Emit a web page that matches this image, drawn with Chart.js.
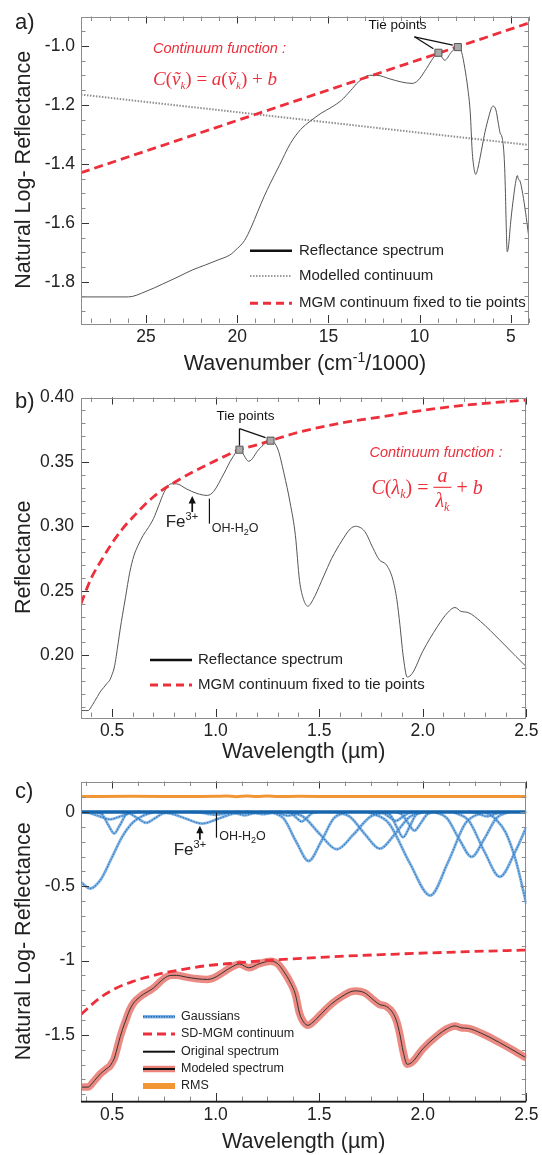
<!DOCTYPE html>
<html>
<head>
<meta charset="utf-8">
<script src="https://cdn.jsdelivr.net/npm/chart.js@4.4.1/dist/chart.umd.min.js"></script>
<style>
  html, body { margin: 0; padding: 0; background: #fff; }
  #wrap { position: relative; width: 542px; height: 1155px; overflow: hidden; }
  #wrap canvas { position: absolute; left: 0; }
</style>
</head>
<body>
<div id="wrap">
  <canvas id="pa" width="542" height="380" style="top:0px"></canvas>
  <canvas id="pb" width="542" height="385" style="top:380px"></canvas>
  <canvas id="pc" width="542" height="390" style="top:765px"></canvas>
</div>
<script>
// ---------- sample spectrum (wavelength in µm, reflectance) ----------
const wavelength = [0.35,0.37,0.385,0.40,0.415,0.43,0.445,0.46,0.475,0.49,0.50,0.51,0.52,0.53,0.54,0.55,0.565,0.585,0.605,0.625,0.65,0.675,0.70,0.725,0.75,0.785,0.81,0.86,0.91,0.96,0.99,1.04,1.08,1.115,1.16,1.21,1.265,1.30,1.33,1.36,1.385,1.405,1.425,1.445,1.47,1.51,1.54,1.56,1.61,1.65,1.675,1.72,1.76,1.79,1.825,1.855,1.875,1.89,1.905,1.925,1.95,2.00,2.07,2.12,2.155,2.185,2.22,2.28,2.37,2.45,2.50];
const reflectance = [0.157,0.157,0.157,0.160,0.164,0.168,0.172,0.175,0.178,0.181,0.185,0.190,0.199,0.210,0.221,0.231,0.245,0.264,0.277,0.285,0.293,0.299,0.306,0.316,0.326,0.333,0.333,0.329,0.3255,0.324,0.327,0.341,0.353,0.3595,0.3505,0.360,0.3665,0.360,0.341,0.318,0.293,0.258,0.243,0.238,0.243,0.257,0.268,0.275,0.289,0.298,0.300,0.296,0.283,0.274,0.270,0.259,0.243,0.223,0.200,0.183,0.186,0.203,0.222,0.233,0.237,0.234,0.233,0.226,0.212,0.199,0.191];
const tieWavelength = [1.115, 1.265];
const tieReflectance = [0.3595, 0.3665];

// ---------- panel a: log reflectance against wavenumber ----------
const aXTicks = [25, 20, 15, 10, 5];
const aYTicks = [-1.8, -1.6, -1.4, -1.2, -1.0];
const modelledWavenumber = [28.57, 4.0];
const modelledLogR = [-1.165, -1.336];
const mgmLineWavenumber = [28.57, 4.0];
const mgmLineLogR = [-1.43, -0.922];

// ---------- panel b: reflectance against wavelength ----------
const bXTicks = [0.5, 1.0, 1.5, 2.0, 2.5];
const bYTicks = [0.20, 0.25, 0.30, 0.35, 0.40];
const bContWl = [0.35,0.40,0.45,0.50,0.55,0.60,0.70,0.80,0.90,1.00,1.115,1.20,1.265,1.40,1.60,1.80,2.00,2.20,2.50];
const bContR  = [0.240,0.260,0.274,0.287,0.298,0.307,0.323,0.334,0.343,0.351,0.3595,0.3633,0.3665,0.373,0.380,0.385,0.390,0.394,0.398];

// ---------- panel c: SD-MGM deconvolution ----------
const cXTicks = [0.5, 1.0, 1.5, 2.0, 2.5];
const cYTicks = [-1.5, -1, -0.5, 0];
const sdContWl   = [0.35,0.441,0.521,0.601,0.681,0.761,0.857,0.953,1.081,1.241,1.577,1.897,2.217,2.50];
const sdContLogR = [-1.362,-1.251,-1.185,-1.14,-1.107,-1.08,-1.056,-1.035,-1.018,-1.0,-0.973,-0.955,-0.94,-0.929];
const rmsWl  = [0.35,0.60,0.90,1.00,1.05,1.10,1.15,1.20,1.25,1.30,1.40,1.60,2.00,2.50];
const rmsVal = [0.104,0.105,0.104,0.105,0.108,0.103,0.107,0.104,0.107,0.104,0.105,0.104,0.104,0.104];
const baselineWl = [0.35, 2.50];
const baselineVal = [0, 0];
const gaussWl = [
  [0.35,0.393,0.445,0.497,0.549,0.601,0.653,0.705],
  [0.426,0.454,0.482,0.51,0.538,0.566,0.594],
  [0.35,0.39,0.44,0.49,0.54,0.59,0.64],
  [0.545,0.585,0.625,0.665,0.705,0.745,0.785],
  [0.71,0.785,0.86,0.935,1.01,1.085,1.16],
  [0.88,0.92,0.96,1.0,1.04,1.08,1.12],
  [1.05,1.08,1.11,1.14,1.17,1.20,1.23],
  [1.14,1.17,1.20,1.23,1.26,1.29,1.32],
  [1.26,1.29,1.32,1.35,1.38,1.41,1.44],
  [1.34,1.365,1.39,1.415,1.44,1.465,1.49],
  [1.269,1.329,1.389,1.449,1.509,1.569,1.629],
  [1.345,1.425,1.505,1.585,1.665,1.745,1.825],
  [1.577,1.649,1.721,1.793,1.865,1.937,2.009],
  [1.78,1.81,1.84,1.87,1.90,1.93,1.96],
  [1.815,1.845,1.875,1.905,1.935,1.965,1.995],
  [1.87,1.90,1.93,1.96,1.99,2.02,2.05],
  [1.736,1.836,1.936,2.036,2.121,2.206,2.291],
  [2.056,2.116,2.176,2.236,2.296,2.356,2.416],
  [2.22,2.25,2.28,2.31,2.34,2.37,2.40],
  [2.147,2.222,2.297,2.372,2.447,2.50],
  [2.30,2.35,2.40,2.45,2.50]
];
const gaussDepth = [
  [-0.473,-0.515,-0.455,-0.313,-0.167,-0.070,-0.023,0],
  [0,-0.020,-0.088,-0.145,-0.088,-0.020,0],
  [0,-0.007,-0.030,-0.050,-0.030,-0.007,0],
  [0,-0.010,-0.044,-0.073,-0.044,-0.010,0],
  [0,-0.011,-0.047,-0.078,-0.047,-0.011,0],
  [0,-0.003,-0.012,-0.020,-0.012,-0.003,0],
  [0,-0.003,-0.013,-0.022,-0.013,-0.003,0],
  [0,-0.002,-0.009,-0.015,-0.009,-0.002,0],
  [0,-0.003,-0.015,-0.025,-0.015,-0.003,0],
  [0,-0.009,-0.039,-0.065,-0.039,-0.009,0],
  [0,-0.045,-0.200,-0.330,-0.200,-0.045,0],
  [0,-0.034,-0.152,-0.251,-0.152,-0.034,0],
  [0,-0.033,-0.150,-0.247,-0.150,-0.033,0],
  [0,-0.008,-0.036,-0.060,-0.036,-0.008,0],
  [0,-0.023,-0.103,-0.170,-0.103,-0.023,0],
  [0,-0.017,-0.076,-0.125,-0.076,-0.017,0],
  [0,-0.076,-0.341,-0.562,-0.341,-0.076,0],
  [0,-0.041,-0.183,-0.302,-0.183,-0.041,0],
  [0,-0.004,-0.018,-0.030,-0.018,-0.004,0],
  [0,-0.059,-0.265,-0.436,-0.265,-0.101],
  [0,-0.045,-0.138,-0.331,-0.619]
];

// ---------- styling ----------
const FONT = '"Liberation Sans", Arial, Helvetica, sans-serif';
const SERIF = '"Liberation Serif", "Times New Roman", serif';
const RED = '#ec2f3b';
const INK = '#222';
const TITLE_SIZE = 21.5;
Chart.defaults.font.family = FONT;

const pairs = (xs, ys) => xs.map((x, i) => ({ x, y: ys[i] }));

// ---------- drawing helpers ----------
function seg(ctx, x0, y0, x1, y1, color, w, dash) {
  ctx.save();
  ctx.beginPath();
  ctx.strokeStyle = color; ctx.lineWidth = w; ctx.setLineDash(dash || []);
  ctx.moveTo(x0, y0); ctx.lineTo(x1, y1); ctx.stroke();
  ctx.restore();
}
function label(ctx, s, x, y, font, color, align) {
  ctx.save();
  ctx.font = font; ctx.fillStyle = color; ctx.textAlign = align || 'left'; ctx.textBaseline = 'middle';
  ctx.fillText(s, x, y);
  ctx.restore();
}
function runsWidth(ctx, parts) {
  let w = 0;
  ctx.save();
  for (const p of parts) { ctx.font = p[1]; w += ctx.measureText(p[0]).width; }
  ctx.restore();
  return w;
}
function runs(ctx, x, y, parts, color) {
  ctx.save();
  ctx.fillStyle = color; ctx.textBaseline = 'alphabetic'; ctx.textAlign = 'left';
  for (const p of parts) {
    ctx.font = p[1];
    ctx.fillText(p[0], x, y + (p[2] || 0));
    x += ctx.measureText(p[0]).width;
  }
  ctx.restore();
  return x;
}
function arrowUp(ctx, x, yTail, yTip, color) {
  seg(ctx, x, yTail, x, yTip + 5, color, 1.7);
  ctx.save();
  ctx.fillStyle = color;
  ctx.beginPath();
  ctx.moveTo(x, yTip); ctx.lineTo(x - 3.6, yTip + 7.5); ctx.lineTo(x + 3.6, yTip + 7.5);
  ctx.closePath(); ctx.fill();
  ctx.restore();
}
function fe3(ctx, tipX, tailY) {
  // "Fe" with a 3+ superscript, placed left of the arrow
  const base = tailY + 8.8 + 6.1;
  runs(ctx, tipX - 26.5, base, [['Fe', `17px ${FONT}`], ['3+', `11px ${FONT}`, -7]], INK);
}
function ohWater(ctx, x, y) {
  runs(ctx, x, y + 4.5, [['OH-H', `12.5px ${FONT}`], ['2', `9px ${FONT}`, 3], ['O', `12.5px ${FONT}`]], INK);
}
function range(min, max, step) {
  const out = [];
  for (let k = Math.ceil(min / step - 1e-6); k * step <= max + 1e-6; k++) out.push(k * step);
  return out;
}
const P = (chart, xv, yv) => [chart.scales.x.getPixelForValue(xv), chart.scales.y.getPixelForValue(yv)];

// frame with inward tick marks on all four sides
function axisDecor(spec) {
  return {
    id: 'axisDecor',
    afterDraw(chart) {
      const { ctx, chartArea: a } = chart;
      const sx = chart.scales.x, sy = chart.scales.y;
      const frameC = '#8c8c8c', majorC = '#333', minorC = '#8a8a8a';
      ctx.save();
      ctx.lineWidth = 1;
      const tk = (x0, y0, x1, y1, c) => { ctx.beginPath(); ctx.strokeStyle = c; ctx.moveTo(x0, y0); ctx.lineTo(x1, y1); ctx.stroke(); };
      for (const v of range(sx.min, sx.max, spec.xMinor)) {
        const p = Math.round(sx.getPixelForValue(v)) + 0.5;
        tk(p, a.bottom, p, a.bottom - 4.5, minorC); tk(p, a.top, p, a.top + 4.5, minorC);
      }
      for (const v of spec.xMajor) {
        const p = Math.round(sx.getPixelForValue(v)) + 0.5;
        tk(p, a.bottom, p, a.bottom - 8, majorC); tk(p, a.top, p, a.top + 7, majorC);
      }
      for (const v of range(sy.min, sy.max, spec.yMinor)) {
        const p = Math.round(sy.getPixelForValue(v)) + 0.5;
        tk(a.left, p, a.left + 4.5, p, minorC); tk(a.right, p, a.right - 4.5, p, minorC);
      }
      for (const v of spec.yMajor) {
        const p = Math.round(sy.getPixelForValue(v)) + 0.5;
        tk(a.left, p, a.left + 8, p, majorC); tk(a.right, p, a.right - 6, p, minorC);
      }
      ctx.strokeStyle = frameC;
      ctx.strokeRect(Math.round(a.left) + 0.5, Math.round(a.top) + 0.5, Math.round(a.width) - 1, Math.round(a.height));
      if (spec.darkBottom) {
        seg(ctx, a.left, Math.round(a.bottom) + 0.5, a.right, Math.round(a.bottom) + 0.5, '#1a1a1a', 1.5);
      }
      ctx.restore();
    }
  };
}

function commonScales(o) {
  const tickFont = { family: FONT, size: 17.5 };
  return {
    x: {
      type: 'linear', min: o.xMin, max: o.xMax, reverse: !!o.reverse,
      grid: { display: false, drawTicks: false }, border: { display: false },
      afterBuildTicks: s => { s.ticks = o.xTicks.map(v => ({ value: v })); },
      afterFit: s => { s.height = o.xHeight; },
      ticks: { font: tickFont, color: INK, padding: 3.5, maxRotation: 0, autoSkip: false, callback: o.xFmt },
      title: o.xTitle ? { display: true, text: o.xTitle, color: INK, font: { family: FONT, size: TITLE_SIZE }, padding: { top: 0, bottom: o.xTitlePad } } : { display: false }
    },
    y: {
      type: 'linear', min: o.yMin, max: o.yMax,
      grid: { display: false, drawTicks: false }, border: { display: false },
      afterBuildTicks: s => { s.ticks = o.yTicks.map(v => ({ value: v })); },
      afterFit: s => { s.width = 81; },
      ticks: { font: tickFont, color: INK, padding: o.yPad, autoSkip: false, callback: o.yFmt },
      title: { display: true, text: o.yTitle, color: INK, font: { family: FONT, size: TITLE_SIZE }, padding: { top: 11, bottom: 0 } }
    }
  };
}
const baseOptions = (padTop, scales) => ({
  responsive: false, animation: false, devicePixelRatio: 1,
  layout: { padding: { top: padTop, right: 13, bottom: 0, left: 0 } },
  plugins: { legend: { display: false }, tooltip: { enabled: false } },
  elements: { point: { radius: 0 }, line: { fill: false } },
  scales
});

// =================== panel a ===================
const aSpectrum = wavelength.map((w, i) => ({ x: 10 / w, y: Math.log(reflectance[i]) }));
const aTies = tieWavelength.map((w, i) => ({ x: 10 / w, y: Math.log(tieReflectance[i]) }));

new Chart(document.getElementById('pa'), {
  type: 'line',
  data: { datasets: [
    { label: 'Tie points', data: aTies, showLine: false, pointStyle: 'rect', pointRadius: 5,
      pointBackgroundColor: '#a9a9a9', pointBorderColor: '#555', pointBorderWidth: 1, order: 0 },
    { label: 'MGM continuum fixed to tie points', data: pairs(mgmLineWavenumber, mgmLineLogR),
      borderColor: RED, borderWidth: 2.8, borderDash: [9, 5], order: 1 },
    { label: 'Reflectance spectrum', data: aSpectrum, borderColor: '#555', borderWidth: 1,
      cubicInterpolationMode: 'monotone', order: 2 },
    { label: 'Modelled continuum', data: pairs(modelledWavenumber, modelledLogR),
      borderColor: '#8f8f8f', borderWidth: 2, borderDash: [1.5, 1.5], order: 3 }
  ]},
  options: baseOptions(9, commonScales({
    xMin: 4.0, xMax: 28.57, reverse: true, xTicks: aXTicks, xHeight: 57, xFmt: v => String(v),
    yMin: -1.94, yMax: -0.9, yTicks: aYTicks, yPad: 6, yFmt: v => v.toFixed(1),
    yTitle: 'Natural Log- Reflectance'
  })),
  plugins: [axisDecor({ xMajor: aXTicks, xMinor: 1, yMajor: aYTicks, yMinor: 0.05 }), {
    id: 'notesA',
    afterDatasetsDraw(chart) {
      const ctx = chart.ctx;
      label(ctx, 'a)', 15, 22.7, `22px ${FONT}`, INK);
      // axis title with superscript
      const tParts = [['Wavenumber (cm', `${TITLE_SIZE}px ${FONT}`], ['-1', `14px ${FONT}`, -8.5], ['/1000)', `${TITLE_SIZE}px ${FONT}`]];
      const tw = runsWidth(ctx, tParts);
      runs(ctx, (chart.chartArea.left + chart.chartArea.right) / 2 - tw / 2, 370.4, tParts, INK);
      // continuum function
      label(ctx, 'Continuum function :', 153, 49, `italic 14.5px ${FONT}`, RED);
      const it = `italic 19px ${SERIF}`, up = `19px ${SERIF}`, sub = `italic 11px ${SERIF}`;
      runs(ctx, 153, 85, [['C', it], ['(', up], ['ṽ', it], ['k', sub, 4], [')', up], [' = ', up],
        ['a', it], ['(', up], ['ṽ', it], ['k', sub, 4], [')', up], [' + ', up], ['b', it]], RED);
      // tie point callout
      const t1 = P(chart, aTies[0].x, aTies[0].y), t2 = P(chart, aTies[1].x, aTies[1].y);
      const ax = t1[0] - 24, ay = t1[1] - 16;
      seg(ctx, ax, ay, t1[0] - 5, t1[1] - 4, '#111', 1.3);
      seg(ctx, ax, ay, t2[0] - 5, t2[1] - 2, '#111', 1.3);
      label(ctx, 'Tie points', t1[0] - 41, t1[1] - 27, `13.5px ${FONT}`, '#111', 'center');
      // legend
      const lf = `15px ${FONT}`;
      seg(ctx, 250, 250.7, 292, 250.7, '#111', 2.5);
      label(ctx, 'Reflectance spectrum', 299, 250.7, lf, INK);
      seg(ctx, 250, 276, 292, 276, '#999', 2, [1.5, 1.5]);
      label(ctx, 'Modelled continuum', 299, 276, lf, INK);
      seg(ctx, 250, 303.3, 292, 303.3, RED, 3, [8, 5]);
      label(ctx, 'MGM continuum fixed to tie points', 299, 303.3, lf, INK);
    }
  }]
});

// =================== panel b ===================
new Chart(document.getElementById('pb'), {
  type: 'line',
  data: { datasets: [
    { label: 'Tie points', data: pairs(tieWavelength, tieReflectance), showLine: false, pointStyle: 'rect', pointRadius: 5,
      pointBackgroundColor: '#a9a9a9', pointBorderColor: '#555', pointBorderWidth: 1, order: 0 },
    { label: 'MGM continuum fixed to tie points', data: pairs(bContWl, bContR), borderColor: RED, borderWidth: 2.8,
      borderDash: [9, 5], cubicInterpolationMode: 'monotone', order: 1 },
    { label: 'Reflectance spectrum', data: pairs(wavelength, reflectance), borderColor: '#555', borderWidth: 1,
      cubicInterpolationMode: 'monotone', order: 2 }
  ]},
  options: baseOptions(7, commonScales({
    xMin: 0.35, xMax: 2.5, xTicks: bXTicks, xHeight: 48, xFmt: v => v.toFixed(1),
    xTitle: 'Wavelength (µm)', xTitlePad: 0.4,
    yMin: 0.152, yMax: 0.40, yTicks: bYTicks, yPad: 7, yFmt: v => v.toFixed(2),
    yTitle: 'Reflectance'
  })),
  plugins: [axisDecor({ xMajor: bXTicks, xMinor: 0.1, yMajor: bYTicks, yMinor: 0.01 }), {
    id: 'notesB',
    afterDatasetsDraw(chart) {
      const ctx = chart.ctx;
      label(ctx, 'b)', 15, 21.7, `22px ${FONT}`, INK);
      // tie point bracket
      const t1 = P(chart, tieWavelength[0], tieReflectance[0]), t2 = P(chart, tieWavelength[1], tieReflectance[1]);
      seg(ctx, t1[0], t1[1] - 21, t1[0], t1[1] - 4, '#111', 1.3);
      seg(ctx, t1[0], t1[1] - 21, t2[0] - 5, t2[1] - 3, '#111', 1.3);
      label(ctx, 'Tie points', t1[0] + 6, t1[1] - 33, `13.5px ${FONT}`, '#111', 'center');
      // continuum function a/λ + b
      label(ctx, 'Continuum function :', 369.5, 72.7, `italic 14.5px ${FONT}`, RED);
      const it = `italic 20px ${SERIF}`, up = `20px ${SERIF}`, sub = `italic 12px ${SERIF}`;
      const base = 114;
      let x = runs(ctx, 371.5, base, [['C', it], ['(', up], ['λ', it], ['k', sub, 4], [')', up], [' = ', up]], RED);
      const den = [['λ', it], ['k', sub, 4]];
      const dw = runsWidth(ctx, den);
      ctx.save(); ctx.font = it; const nw = ctx.measureText('a').width; ctx.restore();
      const fw = Math.max(dw, nw) + 4;
      const barY = base - 6.7;
      seg(ctx, x, barY, x + fw, barY, RED, 1.1);
      runs(ctx, x + (fw - nw) / 2, barY - 5, [['a', it]], RED);
      runs(ctx, x + (fw - dw) / 2, barY + 20, den, RED);
      runs(ctx, x + fw, base, [[' + ', up], ['b', it]], RED);
      // Fe3+ arrow and OH-H2O marker
      const fe = P(chart, 0.887, 0.3235);
      arrowUp(ctx, fe[0], fe[1] + 16, fe[1], '#111');
      fe3(ctx, fe[0], fe[1] + 16);
      const oh = P(chart, 0.97, 0.3215);
      seg(ctx, oh[0], oh[1], oh[0], oh[1] + 25, '#111', 1.2);
      ohWater(ctx, oh[0] + 2.3, oh[1] + 28.5);
      // legend
      const lf = `15px ${FONT}`;
      seg(ctx, 150, 280, 192, 280, '#111', 2.5);
      label(ctx, 'Reflectance spectrum', 198, 280, lf, INK);
      seg(ctx, 150, 305, 192, 305, RED, 3, [8, 5]);
      label(ctx, 'MGM continuum fixed to tie points', 198, 305, lf, INK);
    }
  }]
});

// =================== panel c ===================
const cLog = wavelength.map((w, i) => ({ x: w, y: Math.log(reflectance[i]) }));
const gaussSets = [];
gaussWl.forEach((wl, g) => {
  const pts = pairs(wl, gaussDepth[g]);
  gaussSets.push({ label: 'Gaussians', data: pts, borderColor: 'rgba(105,165,222,0.85)', borderWidth: 2.8,
    cubicInterpolationMode: 'monotone', order: 4 });
  gaussSets.push({ label: 'Gaussians', data: pts, borderColor: '#2c74ba', borderWidth: 1.1, borderDash: [1.2, 1.6],
    cubicInterpolationMode: 'monotone', order: 3 });
});

new Chart(document.getElementById('pc'), {
  type: 'line',
  data: { datasets: [
    { label: 'RMS', data: pairs(rmsWl, rmsVal), borderColor: '#f29635', borderWidth: 3,
      cubicInterpolationMode: 'monotone', order: 0 },
    { label: 'Gaussian baseline', data: pairs(baselineWl, baselineVal), borderColor: '#1766ad', borderWidth: 3.4, order: 1 },
    ...gaussSets,
    { label: 'SD-MGM continuum', data: pairs(sdContWl, sdContLogR), borderColor: RED, borderWidth: 2.8,
      borderDash: [9, 5], cubicInterpolationMode: 'monotone', order: 5 },
    { label: 'Original spectrum', data: cLog, borderColor: '#333', borderWidth: 1,
      cubicInterpolationMode: 'monotone', order: 6 },
    { label: 'Modeled spectrum', data: cLog, borderColor: 'rgba(232,118,108,0.85)', borderWidth: 7.5,
      cubicInterpolationMode: 'monotone', order: 7 }
  ]},
  options: baseOptions(13, commonScales({
    xMin: 0.35, xMax: 2.5, xTicks: cXTicks, xHeight: 54, xFmt: v => v.toFixed(1),
    xTitle: 'Wavelength (µm)', xTitlePad: 0,
    yMin: -1.945, yMax: 0.205, yTicks: cYTicks, yPad: 6, yFmt: v => String(v),
    yTitle: 'Natural Log- Reflectance'
  })),
  plugins: [axisDecor({ xMajor: cXTicks, xMinor: 0.125, yMajor: cYTicks, yMinor: 0.1, darkBottom: true }), {
    id: 'notesC',
    afterDatasetsDraw(chart) {
      const ctx = chart.ctx;
      label(ctx, 'c)', 15, 26.7, `22px ${FONT}`, INK);
      const fe = P(chart, 0.924, -0.093);
      arrowUp(ctx, fe[0], fe[1] + 14, fe[1], '#111');
      fe3(ctx, fe[0] + 0.3, fe[1] + 14);
      const oh = P(chart, 1.004, -0.005);
      seg(ctx, oh[0], oh[1], oh[0], oh[1] + 25, '#111', 1.2);
      ohWater(ctx, oh[0] + 2.7, oh[1] + 23);
      // legend
      const lf = `12.5px ${FONT}`;
      const x0 = 143, x1 = 175, tx = 181;
      seg(ctx, x0, 251.7, x1, 251.7, 'rgba(105,165,222,0.9)', 3.5);
      seg(ctx, x0, 251.7, x1, 251.7, '#1f66ad', 1.6, [1.3, 1.3]);
      label(ctx, 'Gaussians', tx, 251.7, lf, INK);
      seg(ctx, x0, 269, x1, 269, RED, 3, [9, 5]);
      label(ctx, 'SD-MGM continuum', tx, 269, lf, INK);
      seg(ctx, x0, 286.7, x1, 286.7, '#111', 2);
      label(ctx, 'Original spectrum', tx, 286.7, lf, INK);
      seg(ctx, x0, 304, x1, 304, 'rgba(232,118,108,0.9)', 6.5);
      seg(ctx, x0, 304, x1, 304, '#111', 2);
      label(ctx, 'Modeled spectrum', tx, 304, lf, INK);
      seg(ctx, x0, 321, x1, 321, '#f29635', 6);
      label(ctx, 'RMS', tx, 321, lf, INK);
    }
  }]
});
</script>
</body>
</html>
